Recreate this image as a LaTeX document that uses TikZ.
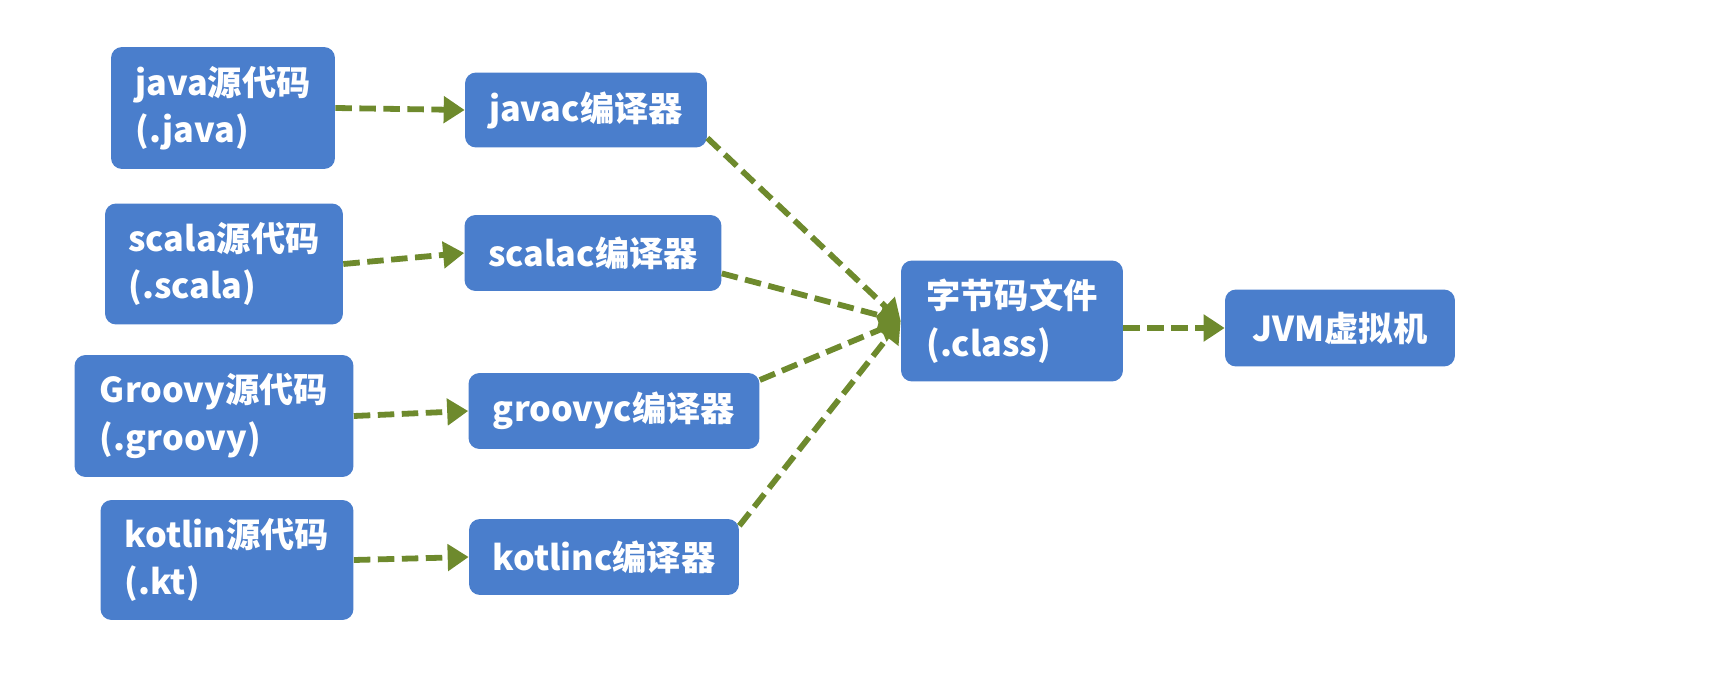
\documentclass[tikz,border=0pt]{standalone}
\usepackage{fontspec}
\setmainfont{Noto Sans CJK SC}
\usetikzlibrary{arrows.meta}
\definecolor{boxblue}{RGB}{74,126,204}
\definecolor{arrowgreen}{RGB}{110,138,45}

\begin{document}
\begin{tikzpicture}[x=0.02cm, y=-0.02cm,
        box/.style={fill=boxblue, rounded corners=0.22cm, text=white,
                    font=\bfseries\fontsize{19.5}{27}\selectfont, align=left, inner sep=0pt},
        flow/.style={draw=arrowgreen, line width=3.3pt, dash pattern=on 0.33cm off 0.15cm,
                     -{Triangle[length=0.42cm, width=0.52cm]}}]
                % Frame:
                \useasboundingbox (0,0) rectangle (1718,686);

                % Sources:
                \node[box, minimum width=4.48cm, minimum height=2.44cm] (java) at (223,108) {java源代码\\(.java)};
                \node[box, minimum width=4.76cm, minimum height=2.42cm] (scala) at (224,264) {scala源代码\\(.scala)};
                \node[box, minimum width=5.58cm, minimum height=2.44cm] (groovy) at (214,416) {Groovy源代码\\(.groovy)};
                \node[box, minimum width=5.06cm, minimum height=2.40cm] (kotlin) at (227,560) {kotlin源代码\\(.kt)};

                % Compilers:
                \node[box, minimum width=4.84cm, minimum height=1.50cm] (javac) at (586,110) {javac编译器};
                \node[box, minimum width=5.14cm, minimum height=1.52cm] (scalac) at (593,253) {scalac编译器};
                \node[box, minimum width=5.82cm, minimum height=1.52cm] (groovyc) at (614,411) {groovyc编译器};
                \node[box, minimum width=5.40cm, minimum height=1.52cm] (kotlinc) at (604,557) {kotlinc编译器};

                % Class file and VM:
                \node[box, minimum width=4.44cm, minimum height=2.42cm] (class) at (1012,321) {字节码文件\\(.class)};
                \node[box, minimum width=4.60cm, minimum height=1.54cm] (jvm) at (1340,328) {JVM虚拟机};

                % Arrows:
            	\draw[flow] (java.east) -- (javac.west);
            	\draw[flow] (scala.east) -- (scalac.west);
            	\draw[flow] (groovy.east) -- (groovyc.west);
            	\draw[flow] (kotlin.east) -- (kotlinc.west);
            	\draw[flow] (javac.-13) -- (class.west);
            	\draw[flow] (scalac.-9) -- (class.west);
            	\draw[flow] (groovyc.12) -- (class.west);
            	\draw[flow] (kotlinc.13) -- (class.west);
            	\draw[flow] (class.east |- jvm.west) -- (jvm.west);
            \end{tikzpicture}
\end{document}
